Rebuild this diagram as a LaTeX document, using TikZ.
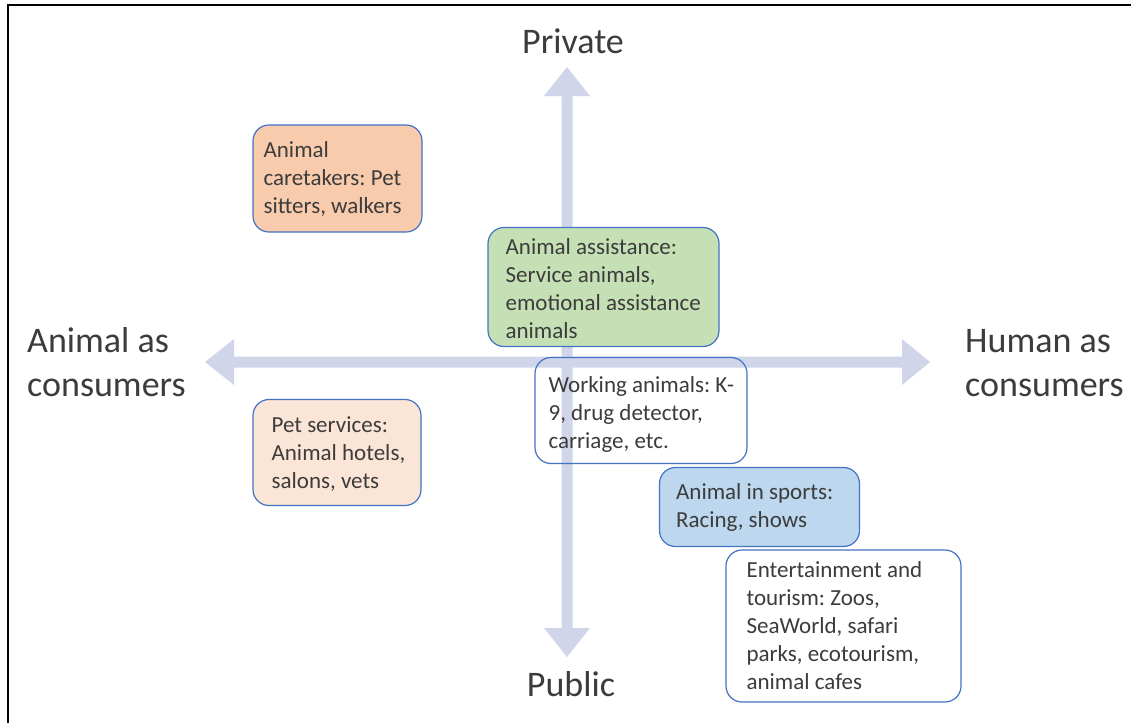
\documentclass[tikz,border=0pt]{standalone}
\usepackage{fontspec}
\setmainfont{Carlito}
\frenchspacing
\definecolor{txt}{RGB}{60,60,60}
\definecolor{axiscol}{RGB}{208,213,234}
\definecolor{edgecol}{RGB}{68,114,196}
\definecolor{orangeA}{RGB}{248,203,173}
\definecolor{orangeB}{RGB}{251,229,214}
\definecolor{greenA}{RGB}{197,224,180}
\definecolor{blueA}{RGB}{189,215,238}
\begin{document}
\begin{tikzpicture}[x=1pt,y=-1pt,
  box/.style={draw=edgecol, line width=1.2pt, rounded corners=16pt, inner sep=0pt},
  boxtext/.style={align=left, text=txt, font=\fontsize{23}{28}\selectfont, inner sep=0pt, anchor=west},
  axislabel/.style={text=txt, font=\fontsize{36}{44}\selectfont, inner sep=0pt}]
\useasboundingbox (0,0) rectangle (1131,723);
\fill[white] (0,0) rectangle (1131,723);
\draw[line width=2.5pt] (8,723) -- (8,5) -- (1131,5);
% axes
\fill[axiscol] (205,362) -- (234,339) -- (234,356.5) -- (902,356.5) -- (902,339) -- (930,362)
  -- (902,385) -- (902,367.5) -- (234,367.5) -- (234,385) -- cycle;
\fill[axiscol] (567,67) -- (590,96) -- (572.5,96) -- (572.5,628) -- (590,628) -- (567,657)
  -- (544,628) -- (561.5,628) -- (561.5,96) -- (544,96) -- cycle;
% labels
\node[axislabel, anchor=base] (priv) at (573,53) {Private};
\node[axislabel, anchor=base] (pub) at (571,696) {Public};
\node[axislabel, anchor=base west, align=left] (animal) at (27,396) {Animal as\\consumers};
\node[axislabel, anchor=base west, align=left] (human) at (965,396) {Human as\\consumers};
% boxes
\node[box, fill=orangeA, minimum width=169pt, minimum height=107pt] (care) at (337.5,178.5) {};
\node[boxtext] (caret) at ([xshift=11pt]care.west) {Animal\\caretakers: Pet\\sitters, walkers};
\node[box, fill=greenA, minimum width=231pt, minimum height=119pt] (assist) at (603.5,287) {};
\node[boxtext] (assistt) at ([xshift=18pt,yshift=-2pt]assist.west) {Animal assistance:\\Service animals,\\emotional assistance\\animals};
\node[box, minimum width=212pt, minimum height=106pt] (work) at (641,410.5) {};
\node[boxtext] (workt) at ([xshift=14pt,yshift=-4pt]work.west) {Working animals: K-\\9, drug detector,\\carriage, etc.};
\node[box, fill=orangeB, minimum width=168pt, minimum height=106pt] (pet) at (337,452.5) {};
\node[boxtext] (pett) at ([xshift=19pt,yshift=-1.5pt]pet.west) {Pet services:\\Animal hotels,\\salons, vets};
\node[box, fill=blueA, minimum width=200pt, minimum height=79pt] (sport) at (759.5,507) {};
\node[boxtext] (sportt) at ([xshift=17pt]sport.west) {Animal in sports:\\Racing, shows};
\node[box, minimum width=235pt, minimum height=152pt] (ent) at (843.5,626) {};
\node[boxtext] (entt) at ([xshift=21pt]ent.west) {Entertainment and\\tourism: Zoos,\\SeaWorld, safari\\parks, ecotourism,\\animal cafes};
\end{tikzpicture}
\end{document}
